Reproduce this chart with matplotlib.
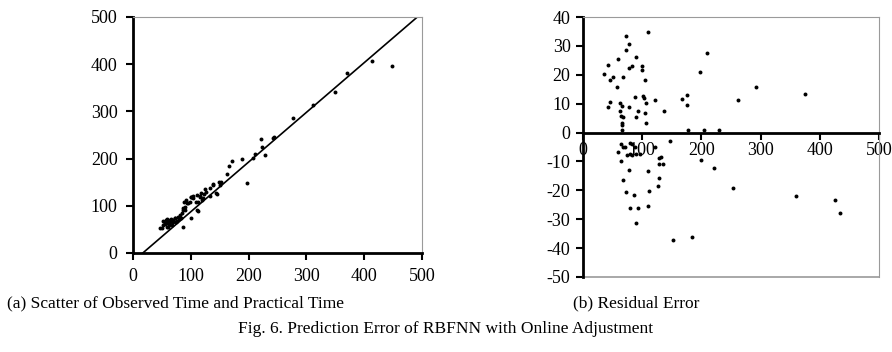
import numpy as np
import matplotlib
matplotlib.use("Agg")
import matplotlib.pyplot as plt

plt.rcParams['font.family'] = ['Liberation Serif', 'DejaVu Serif']
plt.rcParams['axes.unicode_minus'] = False

# (a) observed vs practical time
obs_time = [448, 413, 370, 350, 311, 277, 244, 243, 222, 223, 228, 211, 208, 198,
            188, 172, 166, 162, 152, 148, 150, 139, 145, 133, 127, 122, 116, 119,
            113, 110, 104, 101, 99, 113, 101, 93, 90, 87, 84, 81, 87, 78, 73, 70,
            64, 61, 58, 55, 52, 50, 58, 67, 75, 121, 125, 118, 109, 111, 95, 92,
            88, 86, 72, 69, 64, 58, 55, 52, 47, 61, 100, 143, 138, 133, 116, 104,
            90, 80, 66, 62, 57, 70, 76, 83]
prac_time = [397, 406, 381, 340, 314, 287, 245, 244, 241, 224, 208, 210, 201, 149,
             200, 195, 185, 167, 150, 151, 144, 144, 126, 137, 130, 126, 119, 112,
             109, 123, 116, 119, 109, 88, 74, 105, 98, 91, 84, 80, 56, 77, 74, 70,
             70, 63, 66, 63, 59, 52, 56, 59, 66, 116, 136, 128, 109, 90, 106, 112,
             107, 95, 74, 67, 65, 71, 62, 67, 53, 56, 119, 127, 146, 120, 120, 120,
             90, 72, 72, 60, 70, 66, 68, 75]
fit_x = [17, 492]
fit_y = [0, 500]

# (b) residual error
res_x = [35, 43, 46, 50, 43, 46, 59, 58, 68, 62, 62, 66, 65, 68, 66, 66, 66, 72,
         72, 78, 77, 82, 77, 87, 89, 90, 93, 99, 99, 101, 103, 104, 104, 107, 107,
         109, 121, 136, 168, 175, 175, 178, 198, 204, 209, 229, 262, 292, 375,
         65, 68, 59, 64, 71, 74, 80, 83, 87, 79, 82, 90, 96, 78, 67, 72, 86, 80,
         93, 90, 121, 110, 111, 110, 126, 128, 128, 129, 132, 135, 147, 152, 184,
         222, 253, 360, 426, 434, 200]
res_y = [20.3, 23.5, 18.2, 19.1, 8.8, 10.7, 25.4, 15.7, 19.1, 10.4, 7.6, 9.2,
         5.8, 5.3, 3.4, 2.6, 0.9, 33.5, 28.7, 30.6, 22.3, 23.2, 9.0, 12.2, 26.3,
         5.3, 7.6, 23.2, 21.7, 12.5, 11.9, 18.2, 6.9, 10.1, 3.4, 34.7, 11.4, 7.3,
         11.5, 13.0, 9.5, 0.9, 21.0, 0.9, 27.7, 0.9, 11.1, 15.6, 13.4,
         -4.1, -4.9, -6.6, -9.9, -5.1, -7.8, -3.5, -4.0, -5.1, -7.4, -7.8, -7.4,
         -7.4, -12.8, -16.5, -20.5, -21.7, -26.2, -26.2, -31.3, -4.9, -13.4,
         -20.2, -25.5, -18.6, -15.9, -10.8, -8.9, -8.6, -10.8, -2.9, -37.3, -36.0,
         -12.1, -19.1, -22.0, -23.3, -27.7, -9.5]

fig = plt.figure(figsize=(8.92, 3.52), dpi=100)
ax1 = fig.add_axes([0.1491, 0.2813, 0.324, 0.6705])
ax2 = fig.add_axes([0.6536, 0.2131, 0.3318, 0.7386])

tick_fs = 13
frame_gray = '#9a9a9a'

# left panel
ax1.scatter(obs_time, prac_time, s=8, color='black', linewidths=0, zorder=3)
ax1.plot(fit_x, fit_y, color='black', lw=1.2, zorder=2)
ax1.set_xlim(0, 500)
ax1.set_ylim(0, 500)
ax1.set_xticks(range(0, 501, 100))
ax1.set_yticks(range(0, 501, 100))
for s in ['left', 'bottom']:
    ax1.spines[s].set_linewidth(2)
    ax1.spines[s].set_color('black')
for s in ['top', 'right']:
    ax1.spines[s].set_linewidth(0.8)
    ax1.spines[s].set_color(frame_gray)
ax1.tick_params(direction='out', length=5, width=1.5, labelsize=tick_fs, pad=6)

# right panel
ax2.scatter(res_x, res_y, s=8, color='black', linewidths=0, zorder=3)
ax2.set_xlim(0, 500)
ax2.set_ylim(-50, 40)
ax2.set_xticks(range(0, 501, 100))
ax2.set_yticks(range(-50, 41, 10))
ax2.spines['bottom'].set_position(('data', 0))
ax2.spines['bottom'].set_linewidth(2)
ax2.spines['left'].set_linewidth(2)
for s in ['top', 'right']:
    ax2.spines[s].set_linewidth(0.8)
    ax2.spines[s].set_color(frame_gray)
ax2.axhline(-50, color=frame_gray, lw=1.2, clip_on=False)
ax2.tick_params(direction='out', length=5, width=1.5, labelsize=tick_fs, pad=4)
ax2.tick_params(axis='x', pad=2)

# captions
fig.text(0.008, 0.137, '(a) Scatter of Observed Time and Practical Time',
         fontsize=12.5, va='center', ha='left')
fig.text(0.713, 0.137, '(b) Residual Error', fontsize=12.5, va='center', ha='center')
fig.text(0.499, 0.066, 'Fig. 6. Prediction Error of RBFNN with Online Adjustment',
         fontsize=12.5, va='center', ha='center')

fig.savefig('out.png', dpi=100)
